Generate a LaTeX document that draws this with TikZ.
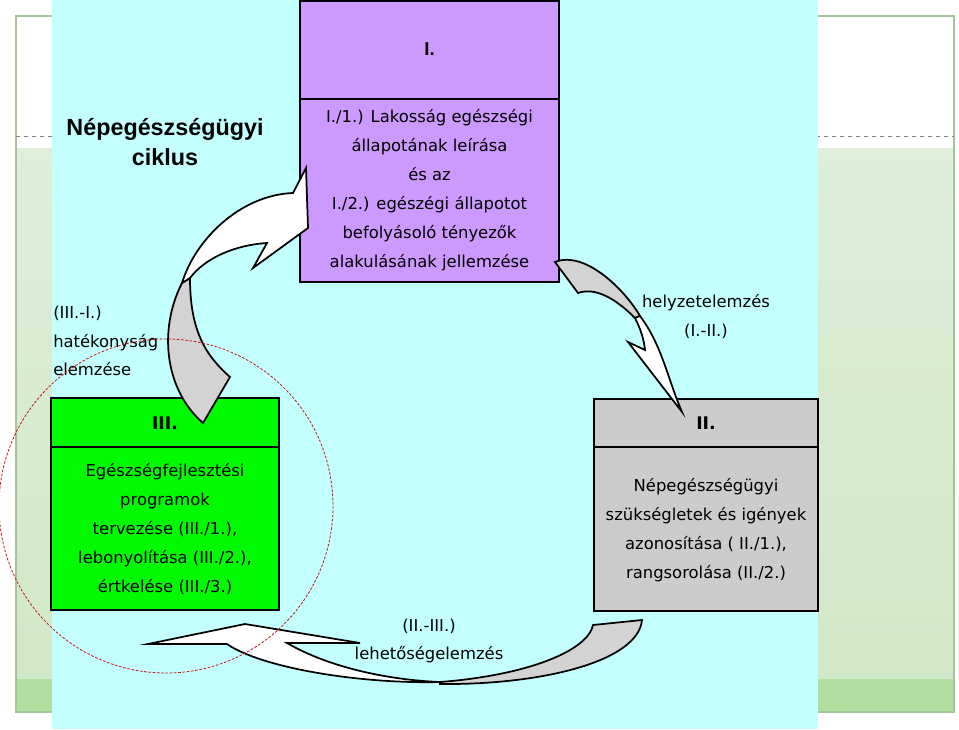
\documentclass[tikz,border=0pt]{standalone}
\usepackage{fontspec}
\setmainfont{DejaVu Sans}
\newfontfamily\titlefont{Liberation Sans}
\definecolor{panel}{RGB}{196,255,255}
\definecolor{boxpurple}{RGB}{204,153,255}
\definecolor{boxgreen}{RGB}{0,250,0}
\definecolor{boxgrey}{RGB}{204,204,204}
\definecolor{arrowgrey}{RGB}{211,211,211}
\definecolor{bandtop}{RGB}{222,238,216}
\definecolor{bandbottom}{RGB}{208,232,200}
\definecolor{banddark}{RGB}{178,222,160}
\definecolor{framec}{RGB}{165,195,155}
\definecolor{circlered}{RGB}{200,20,20}
\begin{document}
\begin{tikzpicture}[x=0.75pt,y=-0.75pt,
  bodytext/.style={font=\fontsize{12.3}{21.75}\selectfont, align=center, inner sep=0pt},
  headtext/.style={font=\fontsize{13}{15}\selectfont\bfseries, inner sep=0pt},
  labeltext/.style={font=\fontsize{12.3}{21.5}\selectfont, inner sep=0pt},
  boxframe/.style={draw=black, line width=1.4pt, inner sep=0pt},
  arrowline/.style={draw=black, line width=1.3pt, line join=miter},
  ringline/.style={draw=circlered, dash pattern=on 2pt off 1.2pt, line width=0.6pt},
]
\useasboundingbox (0,0) rectangle (959,729);
\fill[white] (0,0) rectangle (959,729);
% slide background
\shade[top color=bandtop, bottom color=bandbottom] (16,148) rectangle (954,679);
\fill[banddark] (16,679) rectangle (954,712);
\draw[framec, line width=0.8pt] (16,16) rectangle (954,712);
\draw[gray, dashed, line width=0.5pt] (16,136) -- (954,136);
% panel
\fill[panel] (52,0) rectangle (818,729);

% boxes
\node[boxframe, fill=boxpurple, minimum width=194.25pt, minimum height=210.75pt] (boxI) at (429.5,141.5) {};
\coordinate (dI) at (0,99);
\draw[boxframe] (boxI.west |- dI) -- (boxI.east |- dI);
\node[boxframe, fill=boxgreen, line width=2pt, minimum width=171pt, minimum height=159pt] (boxIII) at (165,504) {};
\coordinate (dIII) at (0,447);
\draw[boxframe, line width=1.2pt] (boxIII.west |- dIII) -- (boxIII.east |- dIII);
\node[boxframe, fill=boxgrey, minimum width=168pt, minimum height=159pt] (boxII) at (706,505) {};
\draw[boxframe, line width=1.2pt] (boxII.west |- dIII) -- (boxII.east |- dIII);

% box texts
\node[headtext, font=\titlefont\fontsize{14}{16}\selectfont\bfseries] (hI) at (429.5,49) {I.};
\node[bodytext] (tI) at (429.5,190) {I./1.) Lakosság egészségi\\állapotának leírása\\és az\\I./2.) egészégi állapotot\\befolyásoló tényezők\\alakulásának jellemzése};
\node[headtext] (hIII) at (165,423) {III.};
\node[bodytext] (tIII) at (165,529.5) {Egészségfejlesztési\\programok\\tervezése (III./1.),\\lebonyolítása (III./2.),\\értkelése (III./3.)};
\node[headtext] (hII) at (706,423) {II.};
\node[bodytext] (tII) at (706,530.5) {Népegészségügyi\\szükségletek és igények\\azonosítása ( II./1.),\\rangsorolása (II./2.)};

% arrow III -> I
\filldraw[arrowline, fill=arrowgrey] (182,283) .. controls (158,330) and (165,390) .. (203,423) -- (230,377) .. controls (205,355) and (190,330) .. (190,278) -- cycle;
\filldraw[arrowline, fill=white] (182,283) .. controls (195,240) and (240,195) .. (293,193) -- (306,168) -- (308,228) -- (253,268) -- (267,243) .. controls (235,245) and (205,258) .. (190,278) -- cycle;
% arrow I -> II
\filldraw[arrowline, fill=arrowgrey] (555,262) .. controls (585,250) and (625,290) .. (640,316) -- (635,318) .. controls (615,298) and (595,287) .. (578,293) -- cycle;
\filldraw[arrowline, fill=white] (635,318) .. controls (641,330) and (644,340) .. (645,350) -- (628,342) -- (682,412) .. controls (668,380) and (662,345) .. (640,316) -- cycle;
% arrow II -> III
\filldraw[arrowline, fill=arrowgrey] (440,682) .. controls (530,675) and (588,650) .. (593,625) -- (642,620) .. controls (638,662) and (540,685) .. (440,684) -- cycle;
\filldraw[arrowline, fill=white] (148,644) -- (245,624) -- (360,643) -- (287,643) .. controls (330,668) and (390,680) .. (440,682) .. controls (360,684) and (262,668) .. (227,644) -- cycle;

% labels
\node[font=\titlefont\bfseries\fontsize{17.5}{22.5}\selectfont, align=center, inner sep=0pt] (title) at (165,142) {Népegészségügyi\\ciklus};
\node[labeltext, anchor=west, align=left] (lblIIII) at (53,341) {(III.-I.)\\hatékonyság\\elemzése};
\node[labeltext, align=center] (lblIII) at (706,316.5) {helyzetelemzés\\(I.-II.)};
\node[labeltext, align=center] (lblIIIII) at (429,641) {(II.-III.)\\lehetőségelemzés};

% dashed ring
\draw[ringline] (166,506) circle [radius=167];
\end{tikzpicture}
\end{document}
